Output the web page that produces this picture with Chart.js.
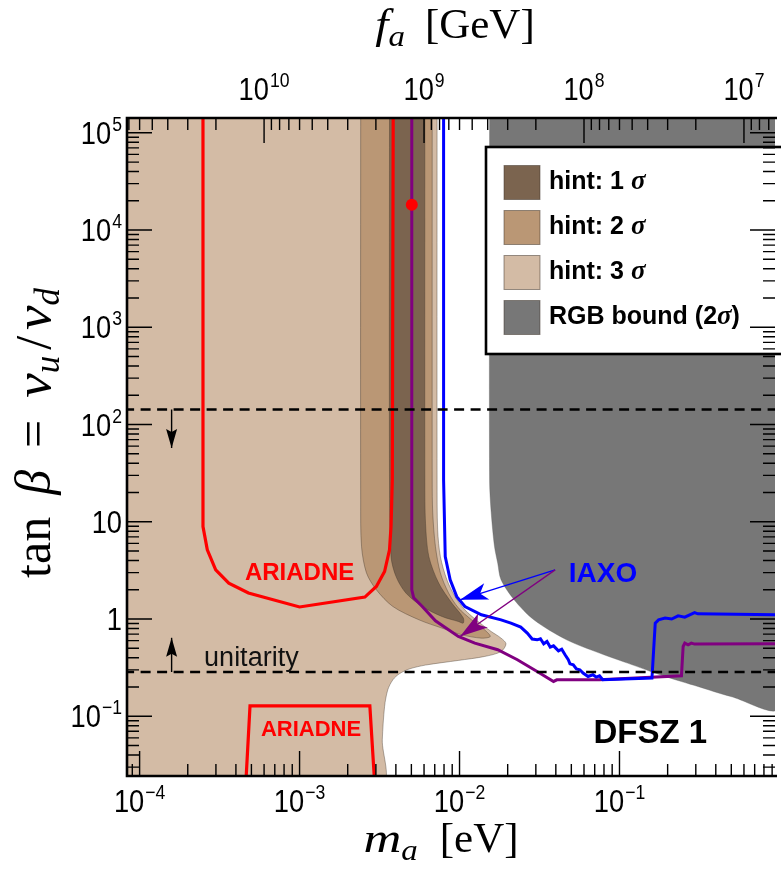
<!DOCTYPE html>
<html>
<head>
<meta charset="utf-8">
<title>DFSZ 1: axion hint, RGB bound, IAXO and ARIADNE</title>
<script src="https://cdn.jsdelivr.net/npm/chart.js@4.4.1/dist/chart.umd.min.js"></script>
<style>
  html, body { margin: 0; padding: 0; background: #ffffff; }
  canvas { display: block; }
</style>
</head>
<body>
<canvas id="plot" width="781" height="870"></canvas>
<script>
// ---------------- axis ranges ----------------
const massRange = [8.34e-5, 0.938];      // m_a [eV]
const tanBetaRange = [0.0243, 1.42e5];   // tan(beta)
const faTimesMass = 6.0e6;               // f_a [GeV] * m_a [eV]

// decades that carry a tick label
const massLabelExps = [-4, -3, -2, -1];
const faLabelExps = [10, 9, 8, 7];
const tanBetaLabelExps = [5, 4, 3, 2, 1, 0, -1];

// ---------------- hint regions (m_a [eV], tan beta) ----------------
const hint1Mass = [3.65e-3, 3.65e-3, 3.73e-3, 4.01e-3, 4.62e-3, 5.85e-3, 7.77e-3, 9.83e-3, 1.055e-2, 1.055e-2, 8.95e-3, 7.41e-3, 6.43e-3, 6.13e-3, 6.07e-3, 6.07e-3];
const hint1TanBeta = [2e5, 26.9, 4.39, 2.73, 1.85, 1.345, 1.061, 0.943, 0.908, 1.029, 1.457, 2.34, 4.39, 9.67, 26.9, 2e5];

const hint2Mass = [2.41e-3, 2.41e-3, 2.44e-3, 2.62e-3, 3.02e-3, 3.83e-3, 5.58e-3, 7.77e-3, 1.032e-2, 1.37e-2, 1.556e-2, 1.435e-2, 1.189e-2, 9.83e-3, 8.53e-3, 7.59e-3, 7.07e-3, 6.80e-3, 6.75e-3, 6.75e-3];
const hint2TanBeta = [2e5, 16.8, 5.56, 2.98, 2.00, 1.345, 0.981, 0.806, 0.688, 0.636, 0.661, 0.774, 0.981, 1.303, 1.86, 2.98, 5.56, 12.35, 26.9, 2e5];

const hint3Mass = [7.24e-3, 7.24e-3, 7.30e-3, 7.59e-3, 8.34e-3, 9.38e-3, 1.081e-2, 1.305e-2, 1.578e-2, 1.818e-2, 1.952e-2, 1.818e-2, 1.435e-2, 9.83e-3, 6.13e-3, 4.84e-3, 4.20e-3, 3.83e-3, 3.56e-3, 3.40e-3, 3.29e-3, 3.24e-3, 8e-5, 8e-5];
const hint3TanBeta = [2e5, 26.9, 8.26, 4.39, 2.53, 1.70, 1.243, 0.943, 0.744, 0.636, 0.556, 0.463, 0.412, 0.375, 0.336, 0.306, 0.273, 0.237, 0.187, 0.126, 0.0573, 0.02, 0.02, 2e5];

// ---------------- red giant branch bound ----------------
const rgbMass = [1.541e-2, 1.541e-2, 1.578e-2, 1.654e-2, 1.733e-2, 1.818e-2, 2.196e-2, 2.915e-2, 4.67e-2, 7.50e-2, 0.1202, 0.1927, 0.3093, 0.496, 1.0, 1.0];
const rgbTanBeta = [2e5, 26.9, 12.35, 5.56, 3.75, 2.53, 1.575, 0.981, 0.611, 0.446, 0.338, 0.2565, 0.2024, 0.1598, 0.126, 2e5];

// ---------------- ARIADNE sensitivity ----------------
const ariadneUpperMass = [2.49e-4, 2.49e-4, 2.65e-4, 2.99e-4, 3.61e-4, 4.79e-4, 1.0e-3, 2.56e-3, 3.02e-3, 3.40e-3, 3.65e-3, 3.73e-3, 3.80e-3, 3.85e-3];
const ariadneUpperTanBeta = [2e5, 8.93, 5.14, 3.20, 2.34, 1.85, 1.33, 1.68, 2.16, 3.08, 5.14, 8.93, 26.9, 2e5];
const ariadneLowerMass = [4.61e-4, 4.90e-4, 2.75e-3, 2.95e-3];
const ariadneLowerTanBeta = [0.02, 0.128, 0.128, 0.02];

// ---------------- IAXO sensitivity ----------------
const iaxoBlueMass = [7.95e-3, 7.95e-3, 8.14e-3, 8.74e-3, 9.61e-3, 1.081e-2, 1.37e-2, 1.818e-2, 0.02095, 0.02414, 0.02651, 0.02846, 0.03055, 0.03205, 0.03359, 0.0352, 0.0369, 0.0387, 0.04155, 0.04354, 0.04568, 0.04786, 0.0490, 0.0514, 0.0538, 0.0565, 0.0592, 0.0636, 0.0682, 0.0715, 0.0750, 0.0786, 0.1596, 0.1673, 0.1755, 0.1927, 0.212, 0.2326, 0.256, 0.2947, 0.3093, 1.0];
const iaxoBlueTanBeta = [2e5, 26.9, 4.39, 2.53, 1.70, 1.345, 1.105, 0.981, 0.908, 0.826, 0.716, 0.622, 0.611, 0.626, 0.556, 0.587, 0.514, 0.530, 0.471, 0.490, 0.429, 0.381, 0.346, 0.338, 0.306, 0.3005, 0.278, 0.2565, 0.267, 0.253, 0.2608, 0.237, 0.247, 0.908, 0.981, 1.021, 1.00, 1.079, 1.046, 1.166, 1.131, 1.105];
const iaxoPurpleMass = [5.03e-3, 5.03e-3, 5.17e-3, 5.85e-3, 7.07e-3, 9.83e-3, 1.246e-2, 1.733e-2, 2.30e-2, 3.055e-2, 3.87e-2, 4.06e-2, 7.50e-2, 0.244, 0.250, 0.256, 0.2685, 0.2813, 0.2947, 1.0];
const iaxoPurpleTanBeta = [2e5, 2.00, 1.65, 1.345, 0.958, 0.661, 0.565, 0.483, 0.381, 0.289, 0.228, 0.237, 0.237, 0.2608, 0.522, 0.565, 0.543, 0.565, 0.552, 0.556];

// ---------------- perturbative unitarity limits on tan beta ----------------
const unitarityTanBeta = [143, 0.285];
const unitarityArrowMass = [1.585e-4, 1.585e-4];
const unitarityArrowEnd = [57.5, 0.641];

// ---------------- IAXO pointer arrows ----------------
const iaxoArrowFrom = [3.96e-2, 3.20];
const iaxoArrowBlueTo = [1.007e-2, 1.575];
const iaxoArrowPurpleTo = [1.007e-2, 0.661];

// ---------------- benchmark point ----------------
const benchmarkMass = [5.03e-3];
const benchmarkTanBeta = [1.82e4];

// ---------------- text notes ----------------
const noteTexts = ['ARIADNE', 'ARIADNE', 'IAXO', 'DFSZ 1', 'unitarity'];
const noteMass = [1.0e-3, 1.18e-3, 7.88e-2, 0.1558, 2.53e-4];
const noteTanBeta = [2.53, 0.0630, 2.43, 0.0530, 0.325];

const legendLabels = ['hint: 1 σ', 'hint: 2 σ', 'hint: 3 σ', 'RGB bound (2σ)'];

// ---------------------------------------------------------------
const pts = (xs, ys) => xs.map((x, i) => ({ x, y: ys[i] }));

const COL = {
  hint1: '#7b644f',
  hint2: '#ba9775',
  hint3: '#d3bba5',
  rgb: '#777777',
  edge: 'rgba(60,50,40,0.55)',
  red: '#ff0000',
  blue: '#0000ff',
  purple: '#800080'
};

function area(label, xs, ys, color, order, edge, tension) {
  return {
    label, data: pts(xs, ys), inLegend: true,
    backgroundColor: color, borderColor: edge, borderWidth: 0.7,
    fill: 'shape', pointRadius: 0, tension, order, clip: 0
  };
}
function curve(xs, ys, color, order, width, tension) {
  return {
    data: pts(xs, ys), borderColor: color, borderWidth: width,
    fill: false, pointRadius: 0, tension: tension || 0, order, clip: 0
  };
}

const datasets = [
  area(legendLabels[2], hint3Mass, hint3TanBeta, COL.hint3, 30, COL.edge, 0.3),
  area(legendLabels[1], hint2Mass, hint2TanBeta, COL.hint2, 29, COL.edge, 0.3),
  area(legendLabels[0], hint1Mass, hint1TanBeta, COL.hint1, 28, COL.edge, 0.3),
  area(legendLabels[3], rgbMass, rgbTanBeta, COL.rgb, 27, 'rgba(90,90,90,0.5)', 0.3),
  curve(ariadneUpperMass, ariadneUpperTanBeta, COL.red, 26, 3.2),
  curve(ariadneLowerMass, ariadneLowerTanBeta, COL.red, 25, 3.2),
  curve(iaxoPurpleMass, iaxoPurpleTanBeta, COL.purple, 24, 3),
  curve(iaxoBlueMass, iaxoBlueTanBeta, COL.blue, 23, 3),
  Object.assign(curve([8e-5, 1.0], [unitarityTanBeta[0], unitarityTanBeta[0]], '#000', 22, 2.6), { borderDash: [10, 6.5] }),
  Object.assign(curve([8e-5, 1.0], [unitarityTanBeta[1], unitarityTanBeta[1]], '#000', 21, 2.6), { borderDash: [10, 6.5] }),
  Object.assign(curve([unitarityArrowMass[0], unitarityArrowMass[0]], [unitarityTanBeta[0], unitarityArrowEnd[0]], '#000', 20, 1.4), { arrowHead: { length: 19, width: 11, notch: 3 } }),
  Object.assign(curve([unitarityArrowMass[1], unitarityArrowMass[1]], [unitarityTanBeta[1], unitarityArrowEnd[1]], '#000', 19, 1.4), { arrowHead: { length: 19, width: 11, notch: 3 } }),
  Object.assign(curve([iaxoArrowFrom[0], iaxoArrowBlueTo[0]], [iaxoArrowFrom[1], iaxoArrowBlueTo[1]], COL.blue, 18, 1.3), { arrowHead: { length: 28, width: 17, notch: 7 } }),
  Object.assign(curve([iaxoArrowFrom[0], iaxoArrowPurpleTo[0]], [iaxoArrowFrom[1], iaxoArrowPurpleTo[1]], COL.purple, 17, 1.3), { arrowHead: { length: 28, width: 17, notch: 7 } }),
  {
    data: pts(benchmarkMass, benchmarkTanBeta), showLine: false, order: 1, clip: 0,
    pointRadius: 6, pointBackgroundColor: COL.red, pointBorderWidth: 0, borderColor: COL.red
  }
];

// ---------------- helpers for drawing ----------------
function logTicks(min, max) {
  const out = [];
  const lo = Math.floor(Math.log10(min)), hi = Math.ceil(Math.log10(max));
  for (let e = lo; e <= hi; e++) {
    for (let k = 1; k < 10; k++) {
      const v = k * Math.pow(10, e);
      if (v >= min && v <= max) out.push({ v, major: k === 1 });
    }
  }
  return out;
}

const SANS = '"Liberation Sans", Arial, Helvetica, sans-serif';
const SERIF = '"Liberation Serif", "Times New Roman", serif';

function drawPower(ctx, mant, expo, x, y, align) {
  const sq = 0.88;
  const baseFont = '31px ' + SANS, supFont = '20px ' + SANS;
  ctx.font = baseFont;
  const wm = ctx.measureText(mant).width * sq;
  ctx.font = supFont;
  const we = expo ? ctx.measureText(expo).width * sq + 1 : 0;
  const w = wm + we;
  const x0 = align === 'center' ? x - w / 2 : (align === 'right' ? x - w : x);
  ctx.save();
  ctx.translate(x0, y); ctx.scale(sq, 1);
  ctx.font = baseFont; ctx.fillText(mant, 0, 0);
  ctx.restore();
  if (expo) {
    ctx.save();
    ctx.translate(x0 + wm + 1, y - 13); ctx.scale(sq, 1);
    ctx.font = supFont; ctx.fillText(expo, 0, 0);
    ctx.restore();
  }
}
const expText = e => (e < 0 ? '\u2212' + Math.abs(e) : String(e));

// a row of text pieces: {t, font, dy, sx} or {gap}
function runWidth(ctx, r) {
  if (r.gap) return r.gap;
  ctx.font = r.font;
  return ctx.measureText(r.t).width * (r.sx || 1);
}
function runsWidth(ctx, runs) {
  return runs.reduce((w, r) => w + runWidth(ctx, r), 0);
}
function drawRuns(ctx, runs, x0, y0) {
  let x = x0;
  for (const r of runs) {
    const w = runWidth(ctx, r);
    if (!r.gap) {
      ctx.save();
      ctx.translate(x, y0 + (r.dy || 0));
      ctx.scale(r.sx || 1, 1);
      ctx.font = r.font;
      ctx.fillText(r.t, 0, 0);
      ctx.restore();
    }
    x += w;
  }
}

// ---------------- plugins ----------------
const arrowHeads = {
  id: 'arrowHeads',
  afterDatasetsDraw(chart) {
    const ctx = chart.ctx;
    chart.data.datasets.forEach((ds, i) => {
      if (!ds.arrowHead) return;
      const el = chart.getDatasetMeta(i).data;
      const p = el[el.length - 1], q = el[el.length - 2];
      const ang = Math.atan2(p.y - q.y, p.x - q.x);
      const { length: L, width: W, notch: N } = ds.arrowHead;
      ctx.save();
      ctx.translate(p.x, p.y);
      ctx.rotate(ang);
      ctx.beginPath();
      ctx.moveTo(0, 0);
      ctx.lineTo(-L, -W / 2);
      ctx.lineTo(-L + N, 0);
      ctx.lineTo(-L, W / 2);
      ctx.closePath();
      ctx.fillStyle = ds.borderColor;
      ctx.fill();
      ctx.restore();
    });
  }
};

const noteStyles = [
  { font: 'bold 24px ' + SANS, color: COL.red, align: 'center' },
  { font: 'bold 22px ' + SANS, color: COL.red, align: 'center' },
  { font: 'bold 28px ' + SANS, color: COL.blue, align: 'center' },
  { font: 'bold 33px ' + SANS, color: '#000', align: 'center' },
  { font: '27px ' + SANS, color: '#111', align: 'left' }
];

const frameAndText = {
  id: 'frameAndText',
  afterDraw(chart) {
    const { ctx, chartArea: a } = chart;
    const sx = chart.scales.x, sy = chart.scales.y, st = chart.scales.xTop;
    ctx.save();
    ctx.textBaseline = 'alphabetic';

    // notes inside the plot
    noteTexts.forEach((t, i) => {
      const s = noteStyles[i];
      ctx.font = s.font; ctx.fillStyle = s.color; ctx.textAlign = s.align;
      ctx.fillText(t, sx.getPixelForValue(noteMass[i]), sy.getPixelForValue(noteTanBeta[i]));
    });
    ctx.textAlign = 'left';

    // legend box
    const lx = a.right - 289, ly = a.top + 29, lw = 320, lh = 207;
    ctx.fillStyle = '#ffffff';
    ctx.fillRect(lx, ly, lw, lh);
    ctx.strokeStyle = '#000'; ctx.lineWidth = 2.6;
    ctx.strokeRect(lx, ly, lw, lh);
    const items = chart.data.datasets.filter(d => d.inLegend)
      .sort((p, q) => legendLabels.indexOf(p.label) - legendLabels.indexOf(q.label));
    items.forEach((d, i) => {
      const top = ly + 18.5 + i * 45;
      ctx.fillStyle = d.backgroundColor;
      ctx.fillRect(lx + 18, top, 36, 34);
      ctx.strokeStyle = 'rgba(60,50,40,0.5)'; ctx.lineWidth = 1;
      ctx.strokeRect(lx + 18, top, 36, 34);
      const parts = d.label.split('σ');
      ctx.fillStyle = '#000';
      drawRuns(ctx, [
        { t: parts[0], font: 'bold 25px ' + SANS },
        { t: 'σ', font: 'italic bold 27px ' + SERIF },
        { t: parts[1] || '', font: 'bold 25px ' + SANS }
      ], lx + 63, top + 23);
    });

    // tick marks pointing into the plot
    ctx.strokeStyle = '#000'; ctx.lineWidth = 1.4;
    ctx.beginPath();
    for (const t of logTicks(massRange[0], massRange[1])) {
      const px = sx.getPixelForValue(t.v);
      if (px < a.left + 1 || px > a.right - 1) continue;
      ctx.moveTo(px, a.bottom); ctx.lineTo(px, a.bottom - (t.major ? 25 : 12));
    }
    for (const t of logTicks(st.min, st.max)) {
      const px = st.getPixelForValue(t.v);
      if (px < a.left + 1 || px > a.right - 1) continue;
      ctx.moveTo(px, a.top); ctx.lineTo(px, a.top + (t.major ? 25 : 12));
    }
    for (const t of logTicks(tanBetaRange[0], tanBetaRange[1])) {
      const py = sy.getPixelForValue(t.v);
      if (py < a.top + 1 || py > a.bottom - 1) continue;
      const len = t.major ? 25 : 12;
      ctx.moveTo(a.left, py); ctx.lineTo(a.left + len, py);
      ctx.moveTo(a.right, py); ctx.lineTo(a.right - len, py);
    }
    ctx.stroke();

    // frame
    ctx.lineWidth = 2.6;
    ctx.beginPath();
    ctx.moveTo(a.right + 2, a.top); ctx.lineTo(a.left, a.top);
    ctx.lineTo(a.left, a.bottom); ctx.lineTo(a.right + 2, a.bottom);
    ctx.stroke();

    // tick labels
    ctx.fillStyle = '#000';
    massLabelExps.forEach(e => {
      drawPower(ctx, '10', expText(e), sx.getPixelForValue(Math.pow(10, e)), a.bottom + 36, 'center');
    });
    faLabelExps.forEach(e => {
      drawPower(ctx, '10', expText(e), st.getPixelForValue(Math.pow(10, e)), a.top - 18, 'center');
    });
    tanBetaLabelExps.forEach(e => {
      const py = sy.getPixelForValue(Math.pow(10, e)) + 11;
      if (e === 1) drawPower(ctx, '10', '', a.left - 5, py, 'right');
      else if (e === 0) drawPower(ctx, '1', '', a.left - 5, py, 'right');
      else drawPower(ctx, '10', expText(e), a.left - 5, py, 'right');
    });

    // axis titles
    const topRuns = [
      { t: 'f', font: 'italic 43px ' + SERIF, sx: 1.1 },
      { t: 'a', font: 'italic 30px ' + SERIF, dy: 8, sx: 1.1 },
      { gap: 20 },
      { t: '[GeV]', font: '43px ' + SERIF }
    ];
    drawRuns(ctx, topRuns, 455 - runsWidth(ctx, topRuns) / 2 + (a.left - 127), 38);

    const bottomRuns = [
      { t: 'm', font: 'italic 43px ' + SERIF, sx: 1.22 },
      { t: 'a', font: 'italic 30px ' + SERIF, dy: 8, sx: 1.1 },
      { gap: 22 },
      { t: '[eV]', font: '43px ' + SERIF }
    ];
    drawRuns(ctx, bottomRuns, 441 - runsWidth(ctx, bottomRuns) / 2 + (a.left - 127), a.bottom + 76);

    const yRuns = [
      { t: 'tan', font: '50px ' + SERIF },
      { gap: 22 },
      { t: 'β', font: 'italic 50px ' + SERIF },
      { gap: 22 },
      { t: '=', font: '50px ' + SERIF },
      { gap: 22 },
      { t: 'v', font: 'italic 50px ' + SERIF, sx: 1.1 },
      { t: 'u', font: 'italic 35px ' + SERIF, dy: 9 },
      { gap: 6 },
      { t: '/', font: '50px ' + SERIF },
      { gap: 6 },
      { t: 'v', font: 'italic 50px ' + SERIF, sx: 1.1 },
      { t: 'd', font: 'italic 35px ' + SERIF, dy: 9 }
    ];
    ctx.save();
    ctx.translate(a.left - 77, (a.top + a.bottom) / 2 - 14);
    ctx.rotate(-Math.PI / 2);
    drawRuns(ctx, yRuns, -runsWidth(ctx, yRuns) / 2, 0);
    ctx.restore();

    ctx.restore();
  }
};

new Chart(document.getElementById('plot'), {
  type: 'line',
  data: { datasets },
  options: {
    responsive: false,
    devicePixelRatio: 1,
    animation: false,
    elements: { line: { capBezierPoints: false } },
    layout: { padding: { left: 0, right: -4, top: 0, bottom: 0 } },
    plugins: { legend: { display: false }, tooltip: { enabled: false } },
    events: [],
    scales: {
      x: {
        type: 'logarithmic', position: 'bottom', bounds: 'data',
        min: massRange[0], max: massRange[1],
        ticks: { display: false }, grid: { display: false }, border: { display: false },
        afterFit: s => { s.height = 94; }
      },
      xTop: {
        type: 'logarithmic', position: 'top', bounds: 'data', reverse: true,
        min: faTimesMass / massRange[1], max: faTimesMass / massRange[0],
        ticks: { display: false }, grid: { display: false }, border: { display: false },
        afterFit: s => { s.height = 118; }
      },
      y: {
        type: 'logarithmic', position: 'left', bounds: 'data',
        min: tanBetaRange[0], max: tanBetaRange[1],
        ticks: { display: false }, grid: { display: false }, border: { display: false },
        afterFit: s => { s.width = 127; }
      }
    }
  },
  plugins: [arrowHeads, frameAndText]
});
</script>
</body>
</html>
